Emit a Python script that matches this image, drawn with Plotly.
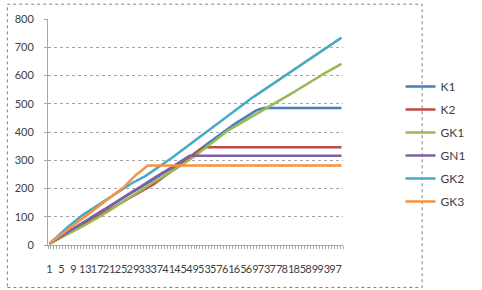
import plotly.graph_objects as go

x_vals = list(range(1, 100))
x_tick_vals = list(range(1, 98, 4))
x_tick_text = [str(v) for v in x_tick_vals]
y_tick_vals = [0, 100, 200, 300, 400, 500, 600, 700, 800]

series_names = ["K1", "K2", "GK1", "GN1", "GK2", "GK3"]

k1 = [5, 11, 18, 25, 31, 38, 44, 50, 57, 63,
      70, 77, 83, 89, 96, 103, 109, 116, 122, 129,
      135, 142, 149, 155, 161, 168, 175, 181, 188, 194,
      200, 207, 214, 220, 227, 233, 240, 246, 253, 260,
      266, 273, 279, 286, 292, 299, 306, 312, 319, 326,
      334, 342, 350, 358, 366, 374, 382, 390, 398, 406,
      413, 420, 427, 434, 441, 448, 455, 462, 468, 474,
      479, 483, 485, 485, 485, 485, 485, 485, 485, 485,
      485, 485, 485, 485, 485, 485, 485, 485, 485, 485,
      485, 485, 485, 485, 485, 485, 485, 485, 485]

k2 = [5, 11, 17, 23, 29, 34, 40, 46, 52, 58,
      64, 70, 75, 81, 87, 93, 99, 105, 111, 117,
      123, 129, 135, 141, 147, 153, 159, 165, 171, 177,
      183, 189, 195, 201, 207, 215, 223, 231, 239, 247,
      255, 263, 271, 279, 287, 295, 303, 311, 318, 326,
      333, 340, 346, 346, 346, 346, 346, 346, 346, 346,
      346, 346, 346, 346, 346, 346, 346, 346, 346, 346,
      346, 346, 346, 346, 346, 346, 346, 346, 346, 346,
      346, 346, 346, 346, 346, 346, 346, 346, 346, 346,
      346, 346, 346, 346, 346, 346, 346, 346, 346]

gk1 = [5, 10, 16, 21, 27, 32, 38, 43, 49, 54,
       60, 66, 71, 77, 83, 88, 94, 100, 107, 114,
       121, 128, 135, 142, 149, 156, 163, 170, 177, 184,
       191, 198, 204, 210, 217, 223, 229, 236, 242, 248,
       255, 261, 267, 274, 280, 286, 293, 300, 308, 316,
       325, 333, 341, 350, 358, 366, 375, 383, 392, 400,
       406, 412, 418, 424, 430, 436, 442, 448, 454, 460,
       466, 472, 478, 484, 490, 496, 503, 509, 516, 522,
       529, 535, 541, 548, 554, 561, 567, 574, 580, 586,
       593, 599, 606, 612, 618, 624, 630, 636, 641]

gn1 = [5, 12, 18, 25, 31, 38, 45, 51, 58, 64,
       71, 78, 84, 91, 97, 104, 110, 117, 124, 130,
       137, 143, 150, 157, 163, 170, 176, 183, 190, 196,
       203, 209, 216, 223, 229, 236, 242, 249, 256, 262,
       269, 275, 282, 289, 295, 302, 309, 316, 316, 316,
       316, 316, 316, 316, 316, 316, 316, 316, 316, 316,
       316, 316, 316, 316, 316, 316, 316, 316, 316, 316,
       316, 316, 316, 316, 316, 316, 316, 316, 316, 316,
       316, 316, 316, 316, 316, 316, 316, 316, 316, 316,
       316, 316, 316, 316, 316, 316, 316, 316, 316]

gk2 = [5, 15, 25, 35, 44, 53, 62, 71, 80, 89,
       97, 105, 112, 119, 126, 133, 140, 147, 154, 161,
       168, 175, 182, 189, 196, 203, 210, 216, 221, 226,
       231, 236, 243, 250, 257, 264, 271, 279, 286, 293,
       300, 308, 316, 324, 332, 340, 348, 356, 364, 372,
       380, 388, 396, 404, 412, 420, 428, 436, 444, 452,
       460, 468, 476, 484, 492, 499, 506, 513, 521, 528,
       535, 542, 549, 556, 563, 571, 578, 585, 592, 599,
       606, 613, 620, 628, 635, 642, 649, 656, 663, 670,
       677, 685, 692, 699, 706, 713, 720, 727, 734]

gk3 = [5, 13, 21, 29, 37, 45, 53, 61, 69, 77,
       85, 93, 101, 109, 117, 125, 133, 141, 148, 156,
       164, 172, 180, 188, 196, 205, 216, 228, 240, 248,
       256, 264, 273, 281, 281, 281, 281, 281, 281, 281,
       281, 281, 281, 281, 281, 281, 281, 281, 281, 281,
       281, 281, 281, 281, 281, 281, 281, 281, 281, 281,
       281, 281, 281, 281, 281, 281, 281, 281, 281, 281,
       281, 281, 281, 281, 281, 281, 281, 281, 281, 281,
       281, 281, 281, 281, 281, 281, 281, 281, 281, 281,
       281, 281, 281, 281, 281, 281, 281, 281, 281]

series_values = [k1, k2, gk1, gn1, gk2, gk3]
colors = ["#4A7EBB", "#BE4B48", "#98B954", "#7D60A0", "#46AAC5", "#F69240"]

for s in series_values:
    assert len(s) == len(x_vals), len(s)

fig = go.Figure()
for name, vals, col in zip(series_names, series_values, colors):
    fig.add_trace(go.Scatter(
        x=x_vals, y=vals, name=name, mode="lines",
        line=dict(color=col, width=2.5),
        legendgroup=name,
    ))

font_family = "Lato, 'Open Sans', sans-serif"

fig.update_layout(
    width=482, height=290,
    margin=dict(l=48, r=93, t=16, b=45),
    paper_bgcolor="white", plot_bgcolor="white",
    font=dict(family=font_family, size=11, color="#404040"),
    showlegend=True,
    legend=dict(
        x=1.195, y=0.765, xanchor="left", yanchor="top",
        font=dict(family=font_family, size=12, color="#404040"),
        tracegroupgap=4, bgcolor="rgba(0,0,0,0)",
        itemwidth=30,
    ),
    xaxis=dict(
        range=[0.5, 99.5],
        tickmode="array", tickvals=x_tick_vals, ticktext=x_tick_text,
        tickangle=0, ticks="", ticklabelstandoff=14,
        showgrid=False, zeroline=False,
        showline=True, linecolor="#A6A6A6", linewidth=1,
        tickfont=dict(family=font_family, size=11, color="#404040"),
        minor=dict(ticks="outside", ticklen=3, tickcolor="#A6A6A6",
                   tickmode="linear", tick0=0.5, dtick=1, showgrid=False),
    ),
    yaxis=dict(
        range=[0, 800],
        tickmode="array", tickvals=y_tick_vals,
        ticks="outside", ticklen=3, tickcolor="#A6A6A6",
        ticklabelstandoff=8,
        showgrid=True, gridcolor="#A6A6A6", gridwidth=1, griddash="dot",
        zeroline=False,
        showline=True, linecolor="#A6A6A6", linewidth=1,
        tickfont=dict(family=font_family, size=11, color="#404040"),
    ),
    shapes=[dict(
        type="rect", xref="paper", yref="paper",
        x0=-0.1378, x1=1.2683, y0=-0.1878, y1=1.0655,
        line=dict(color="#808080", width=1, dash="dot"),
        fillcolor="rgba(0,0,0,0)", layer="above",
    )],
)

fig.write_html("out.html")
